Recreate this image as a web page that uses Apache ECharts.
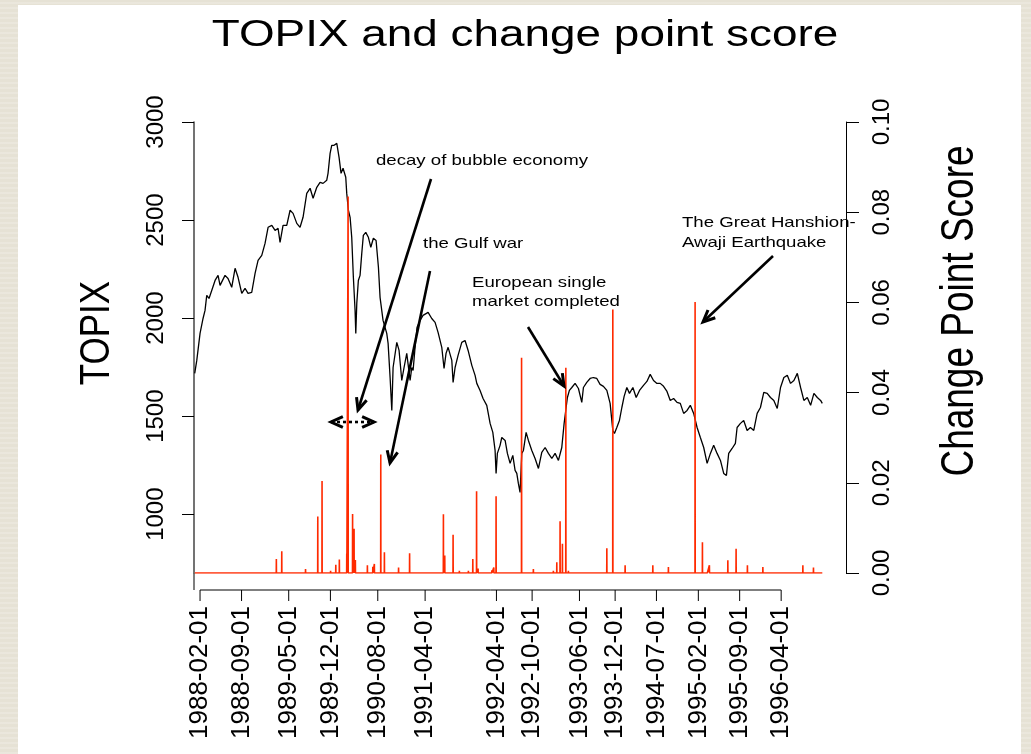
<!DOCTYPE html>
<html>
<head>
<meta charset="utf-8">
<title>TOPIX and change point score</title>
<script src="https://cdn.jsdelivr.net/npm/echarts@6.0.0/dist/echarts.min.js"></script>
<style>
  html, body { margin: 0; padding: 0; }
  body {
    width: 1031px; height: 754px; overflow: hidden; position: relative;
    background: #e6e2d5 repeating-linear-gradient(0deg, rgba(255,255,255,0.18) 0px, rgba(255,255,255,0.18) 2px, rgba(0,0,0,0) 2px, rgba(0,0,0,0) 5px);
  }
  #paper { position: absolute; left: 18px; top: 5px; width: 1003px; height: 760px; background: #fff; }
  #chart { position: absolute; left: 0; top: 0; width: 1031px; height: 754px; }
</style>
</head>
<body>
<div id="paper"></div>
<div id="chart"></div>
<script>
// TOPIX, x = decimal year
var topixYears = [
  1988.010,1988.039,1988.085,1988.127,1988.155,1988.179,1988.211,1988.249,1988.296,1988.338,
  1988.366,1988.390,1988.436,1988.478,1988.530,1988.577,1988.619,1988.671,1988.717,1988.759,
  1988.811,1988.858,1988.900,1988.952,1988.998,1989.041,1989.093,1989.139,1989.181,1989.209,
  1989.251,1989.303,1989.350,1989.392,1989.444,1989.490,1989.532,1989.584,1989.631,1989.673,
  1989.725,1989.771,1989.813,1989.865,1989.883,1989.912,1989.935,1989.968,1990.006,1990.038,
  1990.066,1990.094,1990.132,1990.146,1990.169,1990.193,1990.216,1990.239,1990.263,1990.273,
  1990.287,1990.309,1990.333,1990.357,1990.379,1990.413,1990.450,1990.484,1990.520,1990.558,
  1990.591,1990.614,1990.656,1990.708,1990.727,1990.755,1990.779,1990.797,1990.849,1990.881,
  1990.919,1990.951,1990.989,1991.036,1991.060,1991.078,1991.106,1991.134,1991.176,1991.218,
  1991.246,1991.289,1991.340,1991.387,1991.429,1991.481,1991.513,1991.541,1991.570,1991.622,
  1991.640,1991.668,1991.710,1991.762,1991.808,1991.851,1991.903,1991.949,1991.973,1992.019,
  1992.061,1992.113,1992.160,1992.198,1992.230,1992.244,1992.262,1992.300,1992.324,1992.371,
  1992.403,1992.441,1992.479,1992.511,1992.535,1992.557,1992.581,1992.605,1992.628,1992.666,
  1992.698,1992.746,1992.792,1992.839,1992.886,1992.933,1992.979,1993.027,1993.073,1993.120,
  1993.167,1993.200,1993.228,1993.246,1993.274,1993.308,1993.354,1993.401,1993.448,1993.471,
  1993.518,1993.565,1993.611,1993.659,1993.705,1993.752,1993.800,1993.846,1993.884,1993.907,
  1993.940,1993.977,1994.011,1994.043,1994.081,1994.118,1994.166,1994.212,1994.259,1994.315,
  1994.363,1994.409,1994.456,1994.504,1994.550,1994.597,1994.645,1994.691,1994.738,1994.786,
  1994.832,1994.879,1994.927,1994.973,1995.020,1995.068,1995.114,1995.161,1995.209,1995.255,
  1995.301,1995.349,1995.396,1995.442,1995.480,1995.512,1995.560,1995.606,1995.630,1995.677,
  1995.723,1995.771,1995.817,1995.864,1995.912,1995.958,1996.005,1996.053,1996.099,1996.146,
  1996.194,1996.240,1996.287,1996.335,1996.381,1996.428,1996.476,1996.522,1996.568,1996.616,
  1996.663,1996.709,1996.757,1996.803,1996.827
];
var topixValues = [
  1718,1784,1922,1998,2039,2116,2100,2141,2192,2218,
  2167,2177,2218,2202,2157,2254,2208,2126,2152,2126,
  2131,2228,2294,2320,2381,2463,2473,2447,2458,2386,
  2473,2473,2550,2534,2483,2463,2514,2636,2662,2611,
  2667,2692,2687,2703,2738,2840,2881,2881,2891,2820,
  2738,2764,2718,2636,2550,2514,2412,2208,2039,1922,
  2075,2192,2218,2330,2422,2437,2412,2361,2407,2396,
  2259,2106,1988,1922,1871,1697,1529,1748,1876,1835,
  1682,1748,1820,1682,1748,1733,1851,1953,1988,2014,
  2014,2029,1998,1978,1927,1851,1743,1820,1851,1784,
  1672,1748,1810,1876,1886,1835,1759,1708,1667,1631,
  1590,1555,1463,1417,1325,1208,1310,1351,1391,1376,
  1310,1259,1300,1223,1208,1157,1111,1310,1325,1417,
  1376,1325,1284,1233,1315,1340,1310,1284,1310,1274,
  1340,1463,1544,1595,1631,1646,1667,1641,1570,1646,
  1672,1692,1697,1692,1662,1652,1631,1565,1427,1412,
  1442,1478,1544,1601,1646,1616,1646,1595,1631,1657,
  1677,1713,1682,1667,1667,1652,1626,1580,1590,1570,
  1565,1514,1529,1555,1514,1442,1391,1340,1259,1310,
  1351,1310,1274,1208,1197,1310,1335,1361,1442,1463,
  1478,1427,1442,1427,1514,1544,1621,1616,1595,1580,
  1539,1646,1697,1708,1667,1682,1718,1646,1580,1595,
  1555,1616,1595,1580,1565
];

// change point score spikes (score ~0 between them)
var scoreYears = [
  1988.848,1988.900,1989.157,1989.233,1989.567,1989.739,1989.799,1989.919,1989.992,1990.042,
  1990.146,1990.165,1990.228,1990.249,1990.267,1990.357,1990.436,1990.512,1990.534,1990.624,
  1990.675,1990.779,1990.874,1991.029,1991.261,1991.504,1991.523,1991.640,1991.728,1991.855,
  1991.917,1991.970,1991.991,1992.184,1992.212,1992.244,1992.338,1992.413,1992.602,1992.768,
  1992.839,1992.979,1993.049,1993.097,1993.143,1993.176,1993.224,1993.260,1993.330,1993.471,
  1993.537,1993.677,1993.800,1993.884,1993.977,1994.057,1994.268,1994.338,1994.446,1994.665,
  1994.900,1995.040,1995.143,1995.213,1995.241,1995.500,1995.616,1995.775,1995.841,1995.992,
  1996.141,1996.333,1996.554,1996.657,1996.703,1996.759
];
var scoreValues = [
  0.0003,0.0003,0.0031,0.0048,0.0009,0.0125,0.0204,0.0005,0.0018,0.0030,
  0.0043,0.0835,0.0131,0.0098,0.0029,0.0004,0.0017,0.0014,0.0020,0.0263,
  0.0046,0.0004,0.0012,0.0044,0.0004,0.0130,0.0039,0.0085,0.0005,0.0005,
  0.0031,0.0181,0.0010,0.0006,0.0012,0.0170,0.0003,0.0003,0.0477,0.0009,
  0.0004,0.0003,0.0005,0.0024,0.0115,0.0065,0.0455,0.0005,0.0003,0.0003,
  0.0004,0.0004,0.0055,0.0584,0.0004,0.0017,0.0004,0.0004,0.0017,0.0013,
  0.0003,0.0601,0.0068,0.0004,0.0017,0.0028,0.0054,0.0017,0.0004,0.0013,
  0.0003,0.0003,0.0017,0.0004,0.0012,0.0004
];

var dateTicks = ['1988-02-01','1988-09-01','1989-05-01','1989-12-01','1990-08-01','1991-04-01',
  '1992-04-01','1992-10-01','1993-06-01','1993-12-01','1994-07-01','1995-02-01','1995-09-01','1996-04-01'];
var topixTicks = [1000, 1500, 2000, 2500, 3000];

var FONT = '"Liberation Sans", Arial, Helvetica, sans-serif';
var STRETCH = 1.24; // the original picture is a little wider than tall
var AXIS_DROP = 17;  // bottom axis sits a bit under the plot

function toYear(s) {
  var p = s.split('-');
  var t = Date.UTC(+p[0], +p[1] - 1, +p[2]) - Date.UTC(1988, 0, 1);
  return 1988 + t / (365.25 * 86400000);
}
var tickYears = dateTicks.map(toYear);

var topixData = topixYears.map(function (y, i) { return [y, topixValues[i]]; });
var scoreData = [[topixYears[0], 0]];
scoreYears.forEach(function (y, i) {
  scoreData.push([y - 0.0015, 0], [y, scoreValues[i]], [y + 0.0015, 0]);
});
scoreData.push([topixYears[topixYears.length - 1], 0]);

var chart = echarts.init(document.getElementById('chart'));

chart.setOption({
  backgroundColor: 'transparent',
  animation: false,
  grid: { left: 194, right: 185, top: 122, bottom: 181 },
  xAxis: {
    type: 'value',
    min: 1988.0,
    max: 1997.16,
    splitLine: { show: false },
    axisLine: { show: false },
    axisTick: { show: false },
    axisLabel: {
      customValues: tickYears,
      rotate: 90,
      margin: 33,
      fontSize: 26,
      fontFamily: FONT,
      color: '#000',
      formatter: function (v) {
        var best = 0;
        for (var i = 1; i < tickYears.length; i++) {
          if (Math.abs(tickYears[i] - v) < Math.abs(tickYears[best] - v)) best = i;
        }
        return dateTicks[best];
      }
    }
  },
  yAxis: [
    {
      type: 'value',
      position: 'left',
      min: 700,
      max: 3000,
      splitLine: { show: false },
      axisLine: { show: true, lineStyle: { color: '#444', width: 1.5 } },
      axisTick: { show: true, customValues: topixTicks, length: 12, lineStyle: { color: '#000' } },
      axisLabel: {
        customValues: topixTicks,
        rotate: 90, margin: 26, fontSize: 24, fontFamily: FONT, color: '#000',
        formatter: function (v) { return String(v); }
      }
    },
    {
      type: 'value',
      position: 'right',
      min: 0,
      max: 0.1,
      interval: 0.02,
      splitLine: { show: false },
      axisLine: { show: true, lineStyle: { color: '#000', width: 1 } },
      axisTick: { show: true, length: 13, lineStyle: { color: '#000' } },
      axisLabel: {
        rotate: 90, margin: 24, fontSize: 24, fontFamily: FONT, color: '#000',
        formatter: function (v) { return v.toFixed(2); }
      }
    }
  ],
  series: [
    {
      name: 'TOPIX',
      type: 'line',
      yAxisIndex: 0,
      data: topixData,
      showSymbol: false,
      lineStyle: { color: '#000', width: 1.3 },
      z: 2
    },
    {
      name: 'Change Point Score',
      type: 'line',
      yAxisIndex: 1,
      data: scoreData,
      showSymbol: false,
      lineStyle: { color: '#ff2a00', width: 1.6 },
      z: 3
    }
  ]
});

// arrows for the annotations
function arrowHead(x, y, ang) {
  var L = 13, th = 0.42;
  return {
    type: 'polyline',
    shape: { points: [
      [x - L * Math.cos(ang - th), y - L * Math.sin(ang - th)],
      [x, y],
      [x - L * Math.cos(ang + th), y - L * Math.sin(ang + th)]
    ] },
    style: { stroke: '#000', lineWidth: 3, fill: null, lineJoin: 'miter' },
    z: 10
  };
}
function arrow(x1, y1, x2, y2, dashed, both) {
  var ang = Math.atan2(y2 - y1, x2 - x1);
  var els = [{
    type: 'line',
    shape: { x1: x1, y1: y1, x2: x2, y2: y2 },
    style: { stroke: '#000', lineWidth: 2.6, lineDash: dashed ? [3, 3] : null },
    z: 10
  }, arrowHead(x2, y2, ang)];
  if (both) els.push(arrowHead(x1, y1, ang + Math.PI));
  return els;
}
function label(text, x, y, size) {
  return {
    type: 'text', x: x, y: y, scaleX: STRETCH, z: 10,
    style: { text: text, fontSize: size, fontFamily: FONT, fill: '#000', align: 'left', verticalAlign: 'middle' }
  };
}

var xa = chart.convertToPixel({ xAxisIndex: 0 }, tickYears[0]);
var xb = chart.convertToPixel({ xAxisIndex: 0 }, tickYears[tickYears.length - 1]);
var yBase = chart.convertToPixel({ yAxisIndex: 0 }, 700);
var xLeft = chart.convertToPixel({ xAxisIndex: 0 }, 1988.0);

var graphics = [
  {
    type: 'text', x: 525, y: 36, scaleX: STRETCH, z: 10,
    style: { text: 'TOPIX and change point score', fontSize: 37, fontFamily: FONT, fill: '#000', align: 'center', verticalAlign: 'middle' }
  },
  {
    type: 'text', x: 97, y: 333, rotation: Math.PI / 2, scaleY: STRETCH, z: 10,
    style: { text: 'TOPIX', fontSize: 35, fontFamily: FONT, fill: '#000', align: 'center', verticalAlign: 'middle' }
  },
  {
    type: 'text', x: 960, y: 311, rotation: Math.PI / 2, scaleY: STRETCH, z: 10,
    style: { text: 'Change Point Score', fontSize: 37, fontFamily: FONT, fill: '#000', align: 'center', verticalAlign: 'middle' }
  },
  // bottom axis line between first and last tick, R style
  {
    type: 'line', z: 10,
    shape: { x1: xa, y1: yBase + AXIS_DROP, x2: xb, y2: yBase + AXIS_DROP },
    style: { stroke: '#000', lineWidth: 1 }
  },
  {
    type: 'line', z: 10,
    shape: { x1: xLeft, y1: yBase, x2: xLeft, y2: yBase + AXIS_DROP },
    style: { stroke: '#555', lineWidth: 1.5 }
  },
  label('decay of bubble economy', 376, 161, 15),
  label('the Gulf war', 423, 244, 15),
  label('European single', 472, 283, 15),
  label('market completed', 472, 302, 15),
  label('The Great Hanshion-', 682, 223, 15),
  label('Awaji Earthquake', 682, 243, 15)
];
tickYears.forEach(function (t) {
  var px = chart.convertToPixel({ xAxisIndex: 0 }, t);
  graphics.push({
    type: 'line', z: 10,
    shape: { x1: px, y1: yBase + AXIS_DROP, x2: px, y2: yBase + AXIS_DROP + 11 },
    style: { stroke: '#000', lineWidth: 1 }
  });
});
graphics = graphics
  .concat(arrow(431, 179, 358, 410))
  .concat(arrow(430, 271, 390, 463))
  .concat(arrow(331, 422, 374, 422, true, true))
  .concat(arrow(528, 327, 564, 386))
  .concat(arrow(773, 256, 703, 322));

chart.setOption({ graphic: graphics });
</script>
</body>
</html>
